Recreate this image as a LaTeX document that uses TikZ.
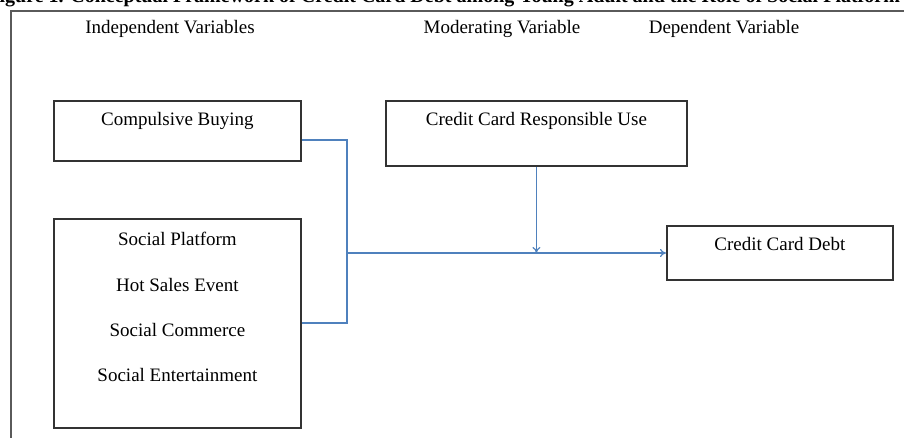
\documentclass[tikz,border=0pt]{standalone}
\usepackage{fontspec}
\setmainfont{Liberation Serif}
\usetikzlibrary{arrows.meta}
\definecolor{linkblue}{RGB}{79,129,189}
\definecolor{framegray}{RGB}{90,90,90}
\tikzset{
    varbox/.style={draw=black!80, line width=0.9pt, minimum width=#1, inner sep=0pt},
    boxtext/.style={anchor=north, inner sep=0pt, font=\fontsize{9.5}{22.7}\selectfont, align=center},
    headtext/.style={font=\fontsize{9.5}{11}\selectfont},
    link/.style={draw=linkblue, line width=0.6pt},
}

\begin{document}
\begin{tikzpicture}[x=0.5pt, y=-0.5pt]
\useasboundingbox (0,0) rectangle (904,438);
% caption, cut off at the top of the page
\begin{scope}
    \clip (0,0) rectangle (904,438);
    \node[anchor=base west, inner sep=0pt, font=\bfseries\fontsize{10}{12}\selectfont]
        (caption) at (-13,3) {Figure 1. Conceptual Framework of Credit Card Debt among Young Adult and the Role of Social Platform};
\end{scope}
% frame
\draw[framegray, line width=1.1pt] (904,11) -- (11,11) -- (11,438);
% headings
\node[headtext] (hind) at (170,29) {Independent Variables};
\node[headtext] (hmod) at (502,29) {Moderating Variable};
\node[headtext] (hdep) at (724,29) {Dependent Variable};
% boxes
\node[varbox=123.5pt, minimum height=30pt, anchor=north west] (cb) at (53,100) {};
\node[varbox=123.5pt, minimum height=104.5pt, anchor=north west] (sp) at (53,218) {};
\node[varbox=150.5pt, minimum height=32.5pt, anchor=north west] (ccru) at (385,100) {};
\node[varbox=113pt, minimum height=27pt, anchor=north west] (ccd) at (666,225) {};
\node[boxtext] (cbt) at ([yshift=-6pt]cb.north) {Compulsive Buying};
\node[boxtext] (spt) at ([yshift=-7pt]sp.north) {Social Platform\\Hot Sales Event\\Social Commerce\\Social Entertainment};
\node[boxtext] (ccrut) at ([yshift=-6pt]ccru.north) {Credit Card Responsible Use};
\node[boxtext] (ccdt) at ([yshift=-6pt]ccd.north) {Credit Card Debt};
% connectors
\coordinate (jt) at (347,140);
\coordinate (jb) at (347,323);
\coordinate (j) at (347,253);
\draw[link] (cb.east |- jt) -- (jt) -- (jb) -- (sp.east |- jb);
\draw[link, -{To[length=3pt, width=4pt]}] (j) -- (ccd.west |- j);
\draw[link, -{To[length=3pt, width=4pt]}] (ccru.south) -- (ccru.south |- j);
\end{tikzpicture}
\end{document}
